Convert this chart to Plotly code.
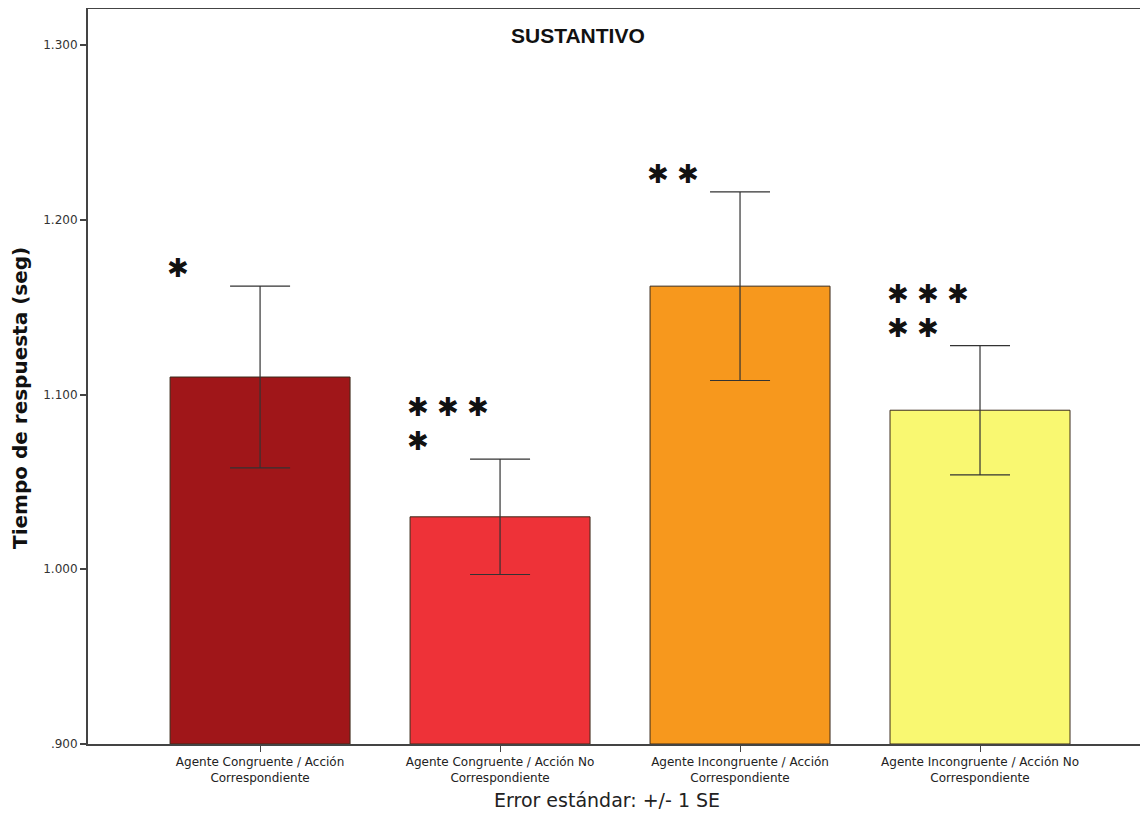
import plotly.graph_objects as go

categories = ["Agente Congruente / Acción<br>Correspondiente",
              "Agente Congruente / Acción No<br>Correspondiente",
              "Agente Incongruente / Acción<br>Correspondiente",
              "Agente Incongruente / Acción No<br>Correspondiente"]
means = [1.110, 1.030, 1.162, 1.091]
se = [0.052, 0.033, 0.054, 0.037]
colors = ["#A01619", "#EE3238", "#F7981D", "#F9F871"]
stars = [["✱"], ["✱ ✱ ✱", "✱"], ["✱ ✱"], ["✱ ✱ ✱", "✱ ✱"]]  # lines, top to bottom
tick_vals = [0.9, 1.0, 1.1, 1.2, 1.3]
tick_text = [".900", "1.000", "1.100", "1.200", "1.300"]

x_idx = list(range(len(categories)))

fig = go.Figure()
fig.add_trace(go.Bar(
    x=x_idx, y=[m - 0.9 for m in means], base=0.9,
    width=0.75,
    marker=dict(color=colors, line=dict(color="#3a2a1a", width=1)),
    error_y=dict(type="data", array=se, visible=True, color="#333333", thickness=1.2, width=30),
    showlegend=False,
))

# significance asterisks, above-left of each error bar
for i, (lines, m, s) in enumerate(zip(stars, means, se)):
    n = len(lines)
    for k, txt in enumerate(lines):
        level = n - 1 - k
        fig.add_annotation(
            x=i - 0.397, y=m + s, xref="x", yref="y",
            text=txt, showarrow=False, xanchor="left", yanchor="middle",
            font=dict(family="DejaVu Sans", size=26, color="#111111"),
            yshift=18 + level * 34,
        )

fig.add_annotation(x=(578 - 88) / 1060, y=1 - (35 - 9) / 735, xref="paper", yref="paper",
                   text="<b>SUSTANTIVO</b>", showarrow=False, xanchor="center", yanchor="middle",
                   font=dict(family="Liberation Sans", size=21, color="#111"))
# y-axis title
fig.add_annotation(x=0, y=1 - (398 - 9) / 735, xref="paper", yref="paper", xshift=-68,
                   text="<b>Tiempo de respuesta (seg)</b>", textangle=-90, showarrow=False,
                   xanchor="center", yanchor="middle",
                   font=dict(family="DejaVu Sans", size=20, color="#111"))
# x-axis title
fig.add_annotation(x=(607 - 88) / 1060, y=0, xref="paper", yref="paper", yshift=-56,
                   text="Error estándar: +/- 1 SE", showarrow=False,
                   xanchor="center", yanchor="middle",
                   font=dict(family="DejaVu Sans", size=19, color="#222"))

fig.update_layout(
    width=1140, height=809,
    margin=dict(l=80, r=0, t=1, b=73),
    paper_bgcolor="white", plot_bgcolor="white",
    font=dict(family="DejaVu Sans", color="#222"),
    xaxis=dict(
        range=[-0.717, 3.70], tickvals=x_idx, ticktext=categories,
        ticks="outside", ticklen=6, tickcolor="#444", tickwidth=1,
        showline=True, linecolor="#444", linewidth=2, mirror=True,
        tickfont=dict(family="DejaVu Sans", size=12, color="#222"),
        showgrid=False, zeroline=False,
    ),
    yaxis=dict(
        range=[0.9, 1.3206], tickvals=tick_vals, ticktext=tick_text,
        ticks="outside", ticklen=6, tickcolor="#444", tickwidth=2,
        showline=True, linecolor="#444", linewidth=2,
        tickfont=dict(family="DejaVu Sans", size=12, color="#333"),
        showgrid=False, zeroline=False,
    ),
)

fig.write_html("out.html")
